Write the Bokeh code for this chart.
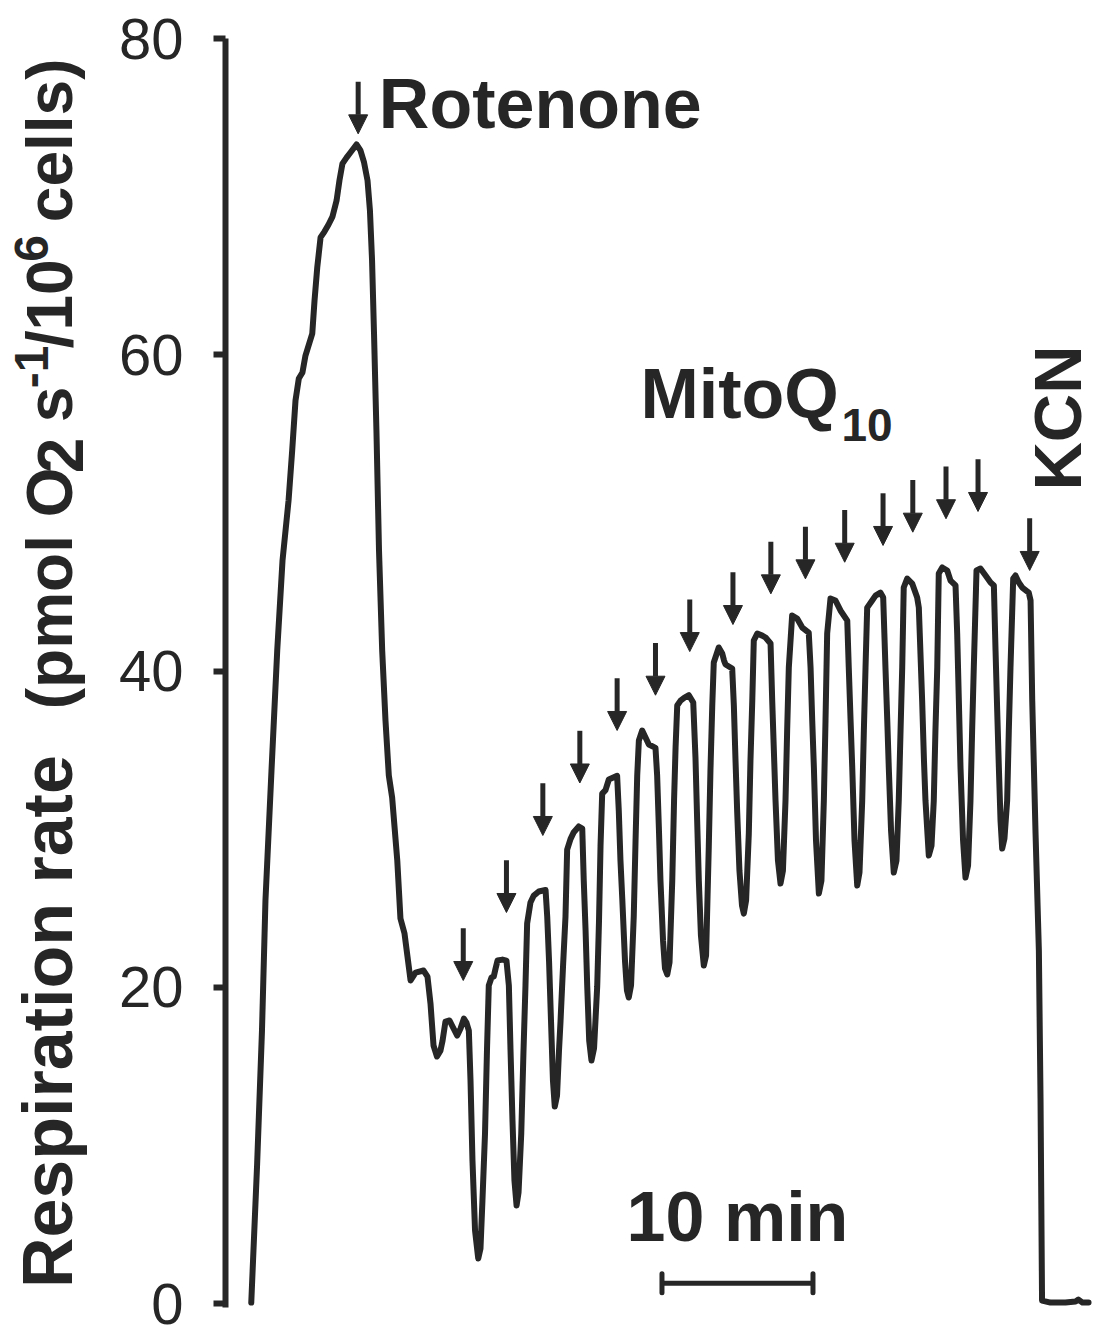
import math
from bokeh.plotting import figure
from bokeh.layouts import row
from bokeh.models import Range1d, Label, Arrow, NormalHead, ColumnDataSource, FixedTicker
from bokeh.embed import file_html
from bokeh.resources import INLINE

# ---------------- data ----------------
time_min = [0.05, 0.44, 0.76, 0.99, 1.39, 1.77, 2.12, 2.52, 2.76, 2.98, 3.20, 3.44, 3.64, 4.09, 4.24,
            4.42, 4.64, 4.90, 5.17, 5.43, 5.70, 5.89, 6.09, 6.36, 6.62, 7.02, 7.28, 7.52, 7.75, 7.91,
            8.05, 8.18, 8.34, 8.51, 8.72, 8.94, 9.16, 9.38, 9.72, 9.93, 10.20, 10.60, 10.93, 11.46, 11.72,
            11.92, 12.12, 12.35, 12.58, 12.72, 12.91, 13.18, 13.38, 13.69, 13.91, 14.13, 14.30, 14.46, 14.57, 14.70,
            14.87, 15.08, 15.23, 15.36, 15.53, 15.66, 15.78, 15.96, 16.11, 16.23, 16.36, 16.69, 16.95, 17.11, 17.22,
            17.35, 17.48, 17.62, 17.75, 17.93, 18.08, 18.21, 18.32, 18.54, 18.76, 19.09, 19.54, 19.65, 19.77, 19.90,
            20.03, 20.15, 20.30, 20.43, 20.53, 20.70, 20.86, 20.97, 21.19, 21.41, 21.74, 21.97, 22.07, 22.19, 22.30,
            22.43, 22.58, 22.75, 22.96, 23.08, 23.18, 23.29, 23.51, 23.73, 24.28, 24.39, 24.50, 24.62, 24.80, 24.93,
            25.05, 25.20, 25.38, 25.50, 25.61, 25.72, 25.94, 26.16, 26.38, 26.82, 26.93, 27.05, 27.15, 27.32, 27.45,
            27.60, 27.75, 27.93, 28.05, 28.15, 28.26, 28.48, 28.74, 29.03, 29.32, 29.47, 29.58, 29.69, 29.83, 30.02,
            30.17, 30.35, 30.46, 30.58, 30.68, 31.01, 31.24, 31.36, 31.46, 31.90, 32.01, 32.12, 32.23, 32.38, 32.55,
            32.67, 32.82, 33.00, 33.11, 33.23, 33.33, 33.56, 33.89, 34.11, 34.44, 34.55, 34.66, 34.77, 34.93, 35.10,
            35.26, 35.43, 35.54, 35.65, 35.87, 36.20, 36.54, 36.97, 37.09, 37.20, 37.31, 37.45, 37.64, 37.81, 37.97,
            38.08, 38.19, 38.41, 38.74, 39.07, 39.52, 39.62, 39.74, 39.85, 40.00, 40.18, 40.33, 40.51, 40.62, 40.73,
            40.84, 41.17, 41.39, 41.72, 41.90, 42.05, 42.17, 42.27, 42.42, 42.60, 42.78, 42.93, 43.05, 43.16, 43.26,
            43.49, 43.82, 44.15, 44.26, 44.48, 44.60, 44.70, 44.92, 45.10, 45.25, 45.36, 45.48, 45.58, 45.81, 46.14,
            46.36, 46.69, 46.80, 46.91, 47.02, 47.19, 47.35, 47.52, 47.68, 47.79, 47.90, 48.08, 48.34, 48.68, 49.01,
            49.23, 49.34, 49.45, 49.56, 49.67, 49.78, 49.93, 50.11, 50.22, 50.33, 50.51, 50.66, 50.88, 51.11, 51.54,
            51.66, 51.77, 51.99, 52.21, 52.32, 52.42, 52.98, 53.97, 54.64, 54.83, 55.10, 55.50]

rate = [0.06, 8.85, 17.26, 25.49, 33.71, 41.30, 46.99, 50.78, 53.95, 57.11, 58.50, 58.88, 59.95, 61.34, 63.43,
        65.52, 67.42, 67.79, 68.24, 68.74, 69.75, 71.02, 72.09, 72.47, 72.79, 73.30, 72.92, 72.16, 71.02, 69.12,
        65.96, 61.34, 55.21, 47.62, 41.30, 36.87, 33.39, 32.00, 28.02, 24.35, 23.40, 20.43, 20.93, 21.06, 20.68,
        18.97, 16.32, 15.62, 15.99, 16.63, 17.83, 17.90, 17.52, 16.95, 17.39, 18.02, 17.77, 17.26, 14.10, 9.04,
        4.62, 2.85, 3.48, 6.51, 10.75, 16.00, 20.11, 20.62, 20.68, 21.19, 21.69, 21.75, 21.69, 20.11, 16.00,
        11.57, 7.78, 6.20, 7.02, 10.75, 16.00, 20.11, 24.03, 25.36, 25.80, 26.06, 26.15, 24.47, 21.69, 17.90,
        14.10, 12.46, 13.15, 16.00, 17.83, 21.38, 24.47, 28.71, 29.37, 29.81, 30.17, 30.04, 26.75, 23.59, 20.05,
        16.63, 15.37, 16.13, 20.05, 24.22, 28.93, 32.25, 32.47, 33.14, 33.37, 31.15, 28.02, 25.61, 21.69, 19.79,
        19.35, 20.11, 24.47, 29.28, 33.39, 35.61, 36.24, 35.79, 35.35, 35.14, 33.39, 29.91, 26.75, 22.96, 21.19,
        20.81, 21.57, 26.75, 31.81, 35.16, 37.82, 38.13, 38.32, 38.47, 38.01, 34.47, 30.55, 26.75, 23.27, 21.38,
        22.01, 28.90, 33.71, 37.82, 40.54, 41.49, 41.11, 40.66, 40.41, 40.16, 37.82, 34.34, 31.11, 27.38, 25.16,
        24.66, 25.49, 29.72, 34.34, 38.13, 41.93, 42.37, 42.24, 42.12, 41.74, 38.13, 34.97, 31.81, 28.02, 26.56,
        27.38, 31.81, 36.24, 40.22, 43.51, 43.32, 42.75, 42.43, 40.22, 36.87, 33.90, 29.28, 25.93, 26.75, 31.81,
        36.87, 42.37, 44.58, 44.46, 43.83, 43.19, 40.22, 36.87, 33.90, 29.28, 26.43, 27.26, 31.81, 36.24, 40.22,
        44.01, 44.46, 44.77, 44.96, 44.65, 40.22, 36.87, 33.90, 29.91, 27.26, 28.02, 31.81, 36.24, 40.22, 45.28,
        45.85, 45.53, 44.65, 44.01, 38.13, 34.34, 31.81, 28.33, 28.96, 31.81, 36.24, 40.22, 46.17, 46.55, 46.36,
        45.72, 45.41, 42.37, 38.13, 33.90, 29.28, 26.94, 27.70, 31.81, 36.24, 40.22, 46.36, 46.48, 46.04, 45.60,
        45.41, 41.30, 37.50, 33.90, 30.55, 28.77, 29.41, 31.81, 36.24, 40.22, 45.85, 46.04, 45.60, 45.28, 44.96,
        44.46, 38.13, 29.72, 22.32, 12.84, 0.19, 0.06, 0.06, 0.13, 0.25, 0.06, 0.06]

rotenone_time = [7.13]
rotenone_tip = [73.97]
mitoq_times = [14.09, 16.95, 19.36, 21.81, 24.28, 26.82, 29.09, 31.95, 34.46, 36.75, 39.35, 41.89,
               43.86, 46.06, 48.18]
mitoq_tips = [20.43, 24.73, 29.60, 32.92, 36.24, 38.47, 41.23, 42.94, 44.88, 45.83, 46.88, 47.94,
              48.78, 49.63, 50.09]
kcn_time = [51.60]
kcn_tip = [46.36]

y_ticks = [0, 20, 40, 60, 80]
scale_bar_start = 27.25
scale_bar_minutes = 10

# ---------------- styling ----------------
INK = "#262626"
FONT = "Liberation Sans"
ARROW_LEN = 3.3
TOTAL_H = 1325
LEFT_W = 110
PX_X = 15.1       # pixels per minute
PX_Y = 15.8125    # pixels per rate unit
MID_K = 0.3465    # distance (em) from baseline up to the text's middle line
R = math.pi / 2

p = figure(width=1095 - LEFT_W, height=TOTAL_H,
           x_range=Range1d(-1.656, 55.96), y_range=Range1d(-0.25, 80),
           x_axis_type=None, toolbar_location=None, output_backend="svg",
           min_border_left=225 - LEFT_W, min_border_right=0, min_border_top=38, min_border_bottom=18)
p.outline_line_color = None
p.ygrid.visible = False
p.background_fill_color = "white"
p.border_fill_color = "white"

ax = p.yaxis[0]
ax.ticker = FixedTicker(ticks=y_ticks)
ax.axis_line_width = 6
ax.axis_line_color = INK
ax.major_tick_line_width = 6
ax.major_tick_line_color = INK
ax.major_tick_out = 12
ax.major_tick_in = 0
ax.minor_tick_out = 0
ax.minor_tick_in = 0
ax.major_label_text_font = FONT
ax.major_label_text_font_size = "58px"
ax.major_label_text_color = INK
ax.major_label_standoff = 30

# trace
p.line(time_min, rate, line_width=6, line_color=INK, line_join="round", line_cap="round")

# arrows
def add_arrows(ts, tips):
    src = ColumnDataSource(dict(x0=ts, y0=[v + ARROW_LEN for v in tips], x1=ts, y1=tips))
    p.add_layout(Arrow(end=NormalHead(size=19, fill_color=INK, line_color=INK, line_width=1),
                       x_start="x0", y_start="y0", x_end="x1", y_end="y1",
                       line_width=5, line_color=INK, source=src))

add_arrows(rotenone_time, rotenone_tip)
add_arrows(mitoq_times, mitoq_tips)
add_arrows(kcn_time, kcn_tip)

# scale bar
sb_y = 1.28
p.segment(x0=[scale_bar_start], y0=[sb_y], x1=[scale_bar_start + scale_bar_minutes], y1=[sb_y],
          line_width=5, line_color=INK)
p.segment(x0=[scale_bar_start, scale_bar_start + scale_bar_minutes], y0=[sb_y - 0.6, sb_y - 0.6],
          x1=[scale_bar_start, scale_bar_start + scale_bar_minutes], y1=[sb_y + 0.6, sb_y + 0.6],
          line_width=5, line_color=INK, line_cap="round")


def hlab(x, y, text, size, align="left"):
    """horizontal label; (x, y) = wanted baseline anchor in data units"""
    p.add_layout(Label(x=x, y=y + MID_K * size / PX_Y, text=text, text_align=align,
                       text_baseline="alphabetic", text_font=FONT,
                       text_font_size=f"{size}px", text_font_style="bold", text_color=INK))


def vlab(fig, xc, yc, text, size):
    """vertical (reading upwards) label centred on (xc, yc)"""
    fig.add_layout(Label(x=xc, y=yc, text=text, angle=R, text_align="center",
                         text_baseline="middle", text_font=FONT,
                         text_font_size=f"{size}px", text_font_style="bold", text_color=INK))


hlab(scale_bar_start + scale_bar_minutes / 2, 3.92, "10 min", 70, align="center")
hlab(8.5, 74.31, "Rotenone", 70)
hlab(25.83, 55.97, "MitoQ", 70)
hlab(39.14, 54.58, "10", 46)
# KCN: baseline at x px 1080, spanning px y 345..490
vlab(p, (1080 - MID_K * 67 - 250) / PX_X, (1303 - 417.5) / PX_Y, "KCN", 67)

# ---- y axis title: a narrow panel to the left (units = pixels, y downwards) ----
t = figure(width=LEFT_W, height=TOTAL_H, x_range=Range1d(0, LEFT_W), y_range=Range1d(TOTAL_H, 0),
           x_axis_type=None, y_axis_type=None, toolbar_location=None, output_backend="svg",
           min_border=0, min_border_left=0, min_border_right=0, min_border_top=0, min_border_bottom=0)
t.outline_line_color = None
t.grid.visible = False
t.background_fill_color = "white"
t.border_fill_color = "white"

MAIN, SUP = 64, 48
SPACE = 0.278 * MAIN
# (text, font size, baseline x, advance width in em, gap before in px)
pieces = [("(pmol O", MAIN, 72, 3.778, 0),
          ("2", MAIN, 82, 0.556, 0),
          ("s", MAIN, 72, 0.556, SPACE),
          ("-1", SUP, 48, 0.889, 0),
          ("/10", MAIN, 72, 1.390, 0),
          ("6", SUP, 48, 0.556, 0),
          ("cells)", MAIN, 72, 2.557, SPACE)]

vlab(t, 72 - MID_K * 70, 1293 - 7.613 * 70 / 2, "Respiration rate", 70)
pos = 695.0
for text, size, base, em, gap in pieces:
    pos -= gap
    w = em * size
    vlab(t, base - MID_K * size, pos - w / 2, text, size)
    pos -= w

open("out.html", "w").write(file_html(row(t, p), INLINE))
